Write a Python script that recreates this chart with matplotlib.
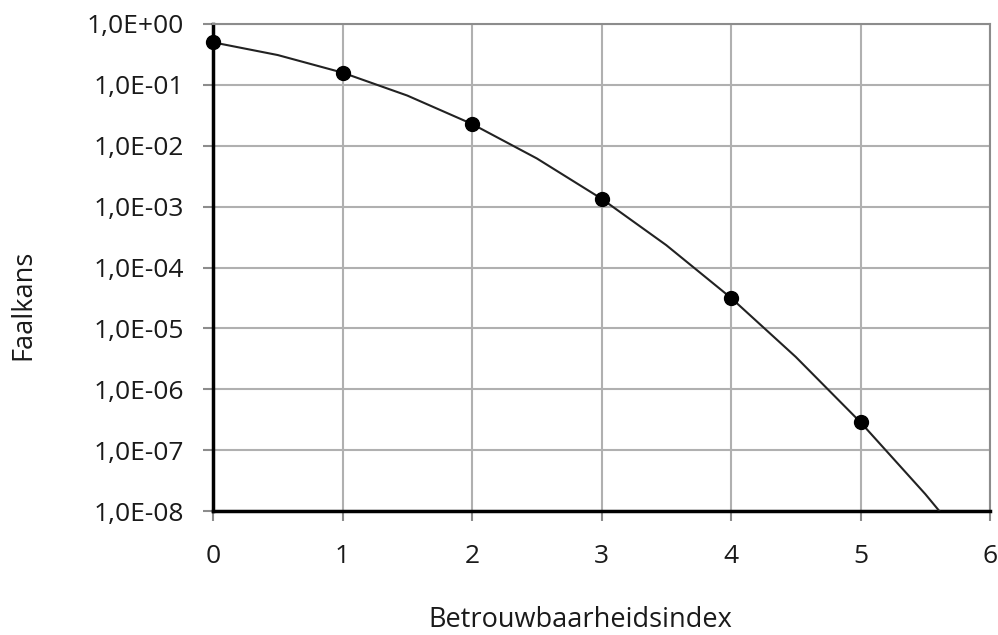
import numpy as np
import matplotlib.pyplot as plt

# reliability index and failure probability (markers)
beta = [0, 1, 2, 3, 4, 5]
pf = [5.0e-1, 1.59e-1, 2.28e-2, 1.35e-3, 3.17e-5, 2.87e-7]

# smooth connecting line
beta_line = [0, 0.5, 1, 1.5, 2, 2.5, 3, 3.5, 4, 4.5, 5, 5.5, 6]
pf_line = [5.0e-1, 3.09e-1, 1.59e-1, 6.68e-2, 2.28e-2, 6.2e-3, 1.35e-3,
           2.33e-4, 3.17e-5, 3.4e-6, 2.87e-7, 1.9e-8, 9.9e-10]

yticks = [1e0, 1e-1, 1e-2, 1e-3, 1e-4, 1e-5, 1e-6, 1e-7, 1e-8]
ytick_labels = ['1,0E+00', '1,0E-01', '1,0E-02', '1,0E-03', '1,0E-04',
                '1,0E-05', '1,0E-06', '1,0E-07', '1,0E-08']
xticks = [0, 1, 2, 3, 4, 5, 6]

plt.rcParams['font.family'] = ['Open Sans', 'DejaVu Sans']

fig = plt.figure(figsize=(9.98, 6.35), dpi=100)
ax = fig.add_axes([213/998, 1-511/635, (990-213)/998, (511-24)/635])

ax.semilogy(beta_line, pf_line, '-', color='#222222', lw=1.5, zorder=3)
ax.semilogy(beta, pf, 'o', color='black', ms=10, zorder=4, clip_on=False)

ax.set_xlim(0, 6)
ax.set_ylim(1e-8, 1e0)
ax.set_xticks(xticks)
ax.set_xticklabels([str(x) for x in xticks])
ax.set_yticks(yticks)
ax.set_yticklabels(ytick_labels)
ax.minorticks_off()

ax.grid(True, color='#b0b0b0', lw=1.5)
for side in ['top', 'right']:
    ax.spines[side].set_color('#8c8c8c')
    ax.spines[side].set_linewidth(1.5)
for side in ['left', 'bottom']:
    ax.spines[side].set_color('black')
    ax.spines[side].set_linewidth(2.5)
ax.tick_params(axis='both', which='major', length=7, width=1.5, color='#8c8c8c',
               labelsize=19, labelcolor='#1a1a1a')
ax.tick_params(axis='y', pad=14)
ax.tick_params(axis='x', pad=17)

fig.text(23/998, 1-305/635, 'Faalkans', rotation=90, ha='center', va='center',
         fontsize=19.5, color='#1a1a1a')
fig.text(580/998, 1-620/635, 'Betrouwbaarheidsindex', ha='center', va='center',
         fontsize=19.5, color='#1a1a1a')

fig.savefig('out.png', dpi=100)
